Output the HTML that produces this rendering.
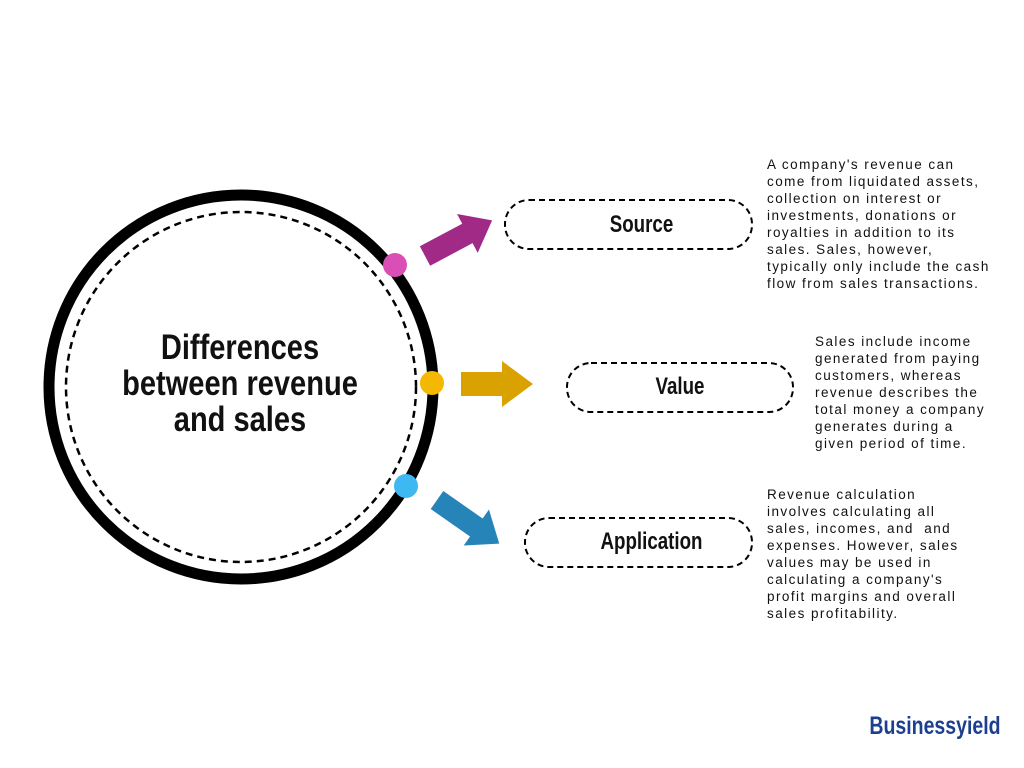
<!DOCTYPE html>
<html><head><meta charset="utf-8"><style>
body{margin:0;width:1024px;height:768px;background:#fff;position:relative;overflow:hidden;font-family:"Liberation Sans",sans-serif}
.t{position:absolute;font-size:13.5px;line-height:17px;color:#111;letter-spacing:1.45px;white-space:pre}
.h{position:absolute;font-weight:bold;color:#111;transform:scaleX(0.78);transform-origin:center;text-align:center}
</style></head><body>
<svg width="1024" height="768" style="position:absolute;left:0;top:0">
<circle cx="241" cy="387" r="192" fill="none" stroke="#000" stroke-width="11"/>
<circle cx="241" cy="387" r="175" fill="none" stroke="#000" stroke-width="2.5" stroke-dasharray="7 5"/>
<circle cx="395" cy="265" r="12" fill="#d94fb5"/>
<circle cx="432" cy="383" r="12" fill="#f5b800"/>
<circle cx="406" cy="486" r="12" fill="#3db8f0"/>
<g transform="translate(425,256) rotate(-28)"><polygon points="0,-11 48,-11 48,-22 76,0 48,22 48,11 0,11" fill="#a02a85"/></g>
<polygon points="461,372 502,372 502,361 533,384 502,407 502,396 461,396" fill="#d9a200"/>
<g transform="translate(437,500) rotate(35)"><polygon points="0,-11 48,-11 48,-22 76,0 48,22 48,11 0,11" fill="#2784b8"/></g>
<rect x="505" y="200" width="247" height="49" rx="24" fill="none" stroke="#000" stroke-width="2" stroke-dasharray="6 4"/>
<rect x="567" y="363" width="226" height="49" rx="24" fill="none" stroke="#000" stroke-width="2" stroke-dasharray="6 4"/>
<rect x="525" y="518" width="227" height="49" rx="24" fill="none" stroke="#000" stroke-width="2" stroke-dasharray="6 4"/>
</svg>
<div class="h" style="left:80px;top:330px;width:320px;font-size:35px;line-height:36px;transform:scaleX(0.83)">Differences<br>between revenue<br>and sales</div>
<div class="h" style="left:518px;top:211px;width:247px;font-size:24px">Source</div>
<div class="h" style="left:567px;top:373px;width:226px;font-size:24px">Value</div>
<div class="h" style="left:538px;top:528px;width:227px;font-size:24px">Application</div>
<div class="t" style="left:767px;top:156px">A company's revenue can
come from liquidated assets,
collection on interest or
investments, donations or
royalties in addition to its
sales. Sales, however,
typically only include the cash
flow from sales transactions.</div>
<div class="t" style="left:815px;top:333px">Sales include income
generated from paying
customers, whereas
revenue describes the
total money a company
generates during a
given period of time.</div>
<div class="t" style="left:767px;top:486px">Revenue calculation
involves calculating all
sales, incomes, and  and
expenses. However, sales
values may be used in
calculating a company's
profit margins and overall
sales profitability.</div>
<div class="h" style="left:850px;top:712px;width:170px;font-size:25px;color:#1d3f8f">Businessyield</div>
</body></html>
